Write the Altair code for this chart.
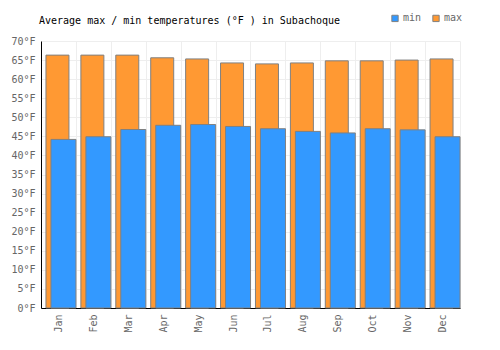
import altair as alt
import pandas as pd

months = ["Jan", "Feb", "Mar", "Apr", "May", "Jun", "Jul", "Aug", "Sep", "Oct", "Nov", "Dec"]
max_vals = [66.3, 66.3, 66.3, 65.6, 65.3, 64.25, 64.0, 64.25, 64.8, 64.8, 65.0, 65.3]
min_vals = [44.2, 44.9, 46.8, 47.9, 48.1, 47.6, 47.0, 46.3, 45.9, 47.0, 46.7, 44.9]

df_max = pd.DataFrame({"month": months, "value": max_vals, "series": "max"})
df_min = pd.DataFrame({"month": months, "value": min_vals, "series": "min"})

FONT = "DejaVu Sans Mono"

xenc = alt.X("month:N", sort=months, title=None,
             scale=alt.Scale(paddingInner=0, paddingOuter=0),
             axis=alt.Axis(labelAngle=270, tickBand="extent", grid=True, gridColor="#eeeeee",
                           ticks=False, domainColor="black", labelFont=FONT, labelFontSize=10,
                           labelColor="#666666", labelPadding=6, labelAlign="right",
                           labelBaseline="middle"))
yenc = alt.Y("value:Q", title=None,
             scale=alt.Scale(domain=[0, 70], nice=False),
             axis=alt.Axis(values=list(range(0, 75, 5)), labelExpr="datum.value + '°F'",
                           grid=True, gridColor="#eeeeee", ticks=False, domainColor="black",
                           labelFont=FONT, labelFontSize=10, labelColor="#666666",
                           labelPadding=6))
color = alt.Color("series:N",
                  scale=alt.Scale(domain=["min", "max"], range=["#3399ff", "#ff9933"]),
                  legend=alt.Legend(title=None, orient="none", legendX=349, legendY=-28,
                                    direction="horizontal", symbolType="square", symbolSize=40,
                                    symbolStrokeColor="#808080", symbolStrokeWidth=1,
                                    symbolOpacity=1, labelFont=FONT, labelFontSize=10,
                                    labelColor="#666666", labelOffset=3, columnPadding=8))

bars_max = alt.Chart(df_max).mark_bar(width=23, xOffset=-1, stroke="#808080", strokeWidth=1, opacity=1).encode(
    x=xenc, y=yenc, color=color)
bars_min = alt.Chart(df_min).mark_bar(width=25, xOffset=5, stroke="#808080", strokeWidth=1, opacity=1).encode(
    x=xenc, y=yenc, color=color)

chart = alt.layer(bars_max, bars_min).properties(
    width=419, height=267,
    title=alt.TitleParams("Average max / min temperatures (°F ) in Subachoque",
                          anchor="start", frame="group", font=FONT, fontSize=10,
                          fontWeight="normal", color="black", offset=-13, dx=-2),
    autosize=alt.AutoSizeParams(type="none"),
    padding={"left": 41, "top": 41, "right": 40, "bottom": 42},
).configure_view(stroke=None)

chart.save("out.html", embed_options={"renderer": "svg", "actions": False})
